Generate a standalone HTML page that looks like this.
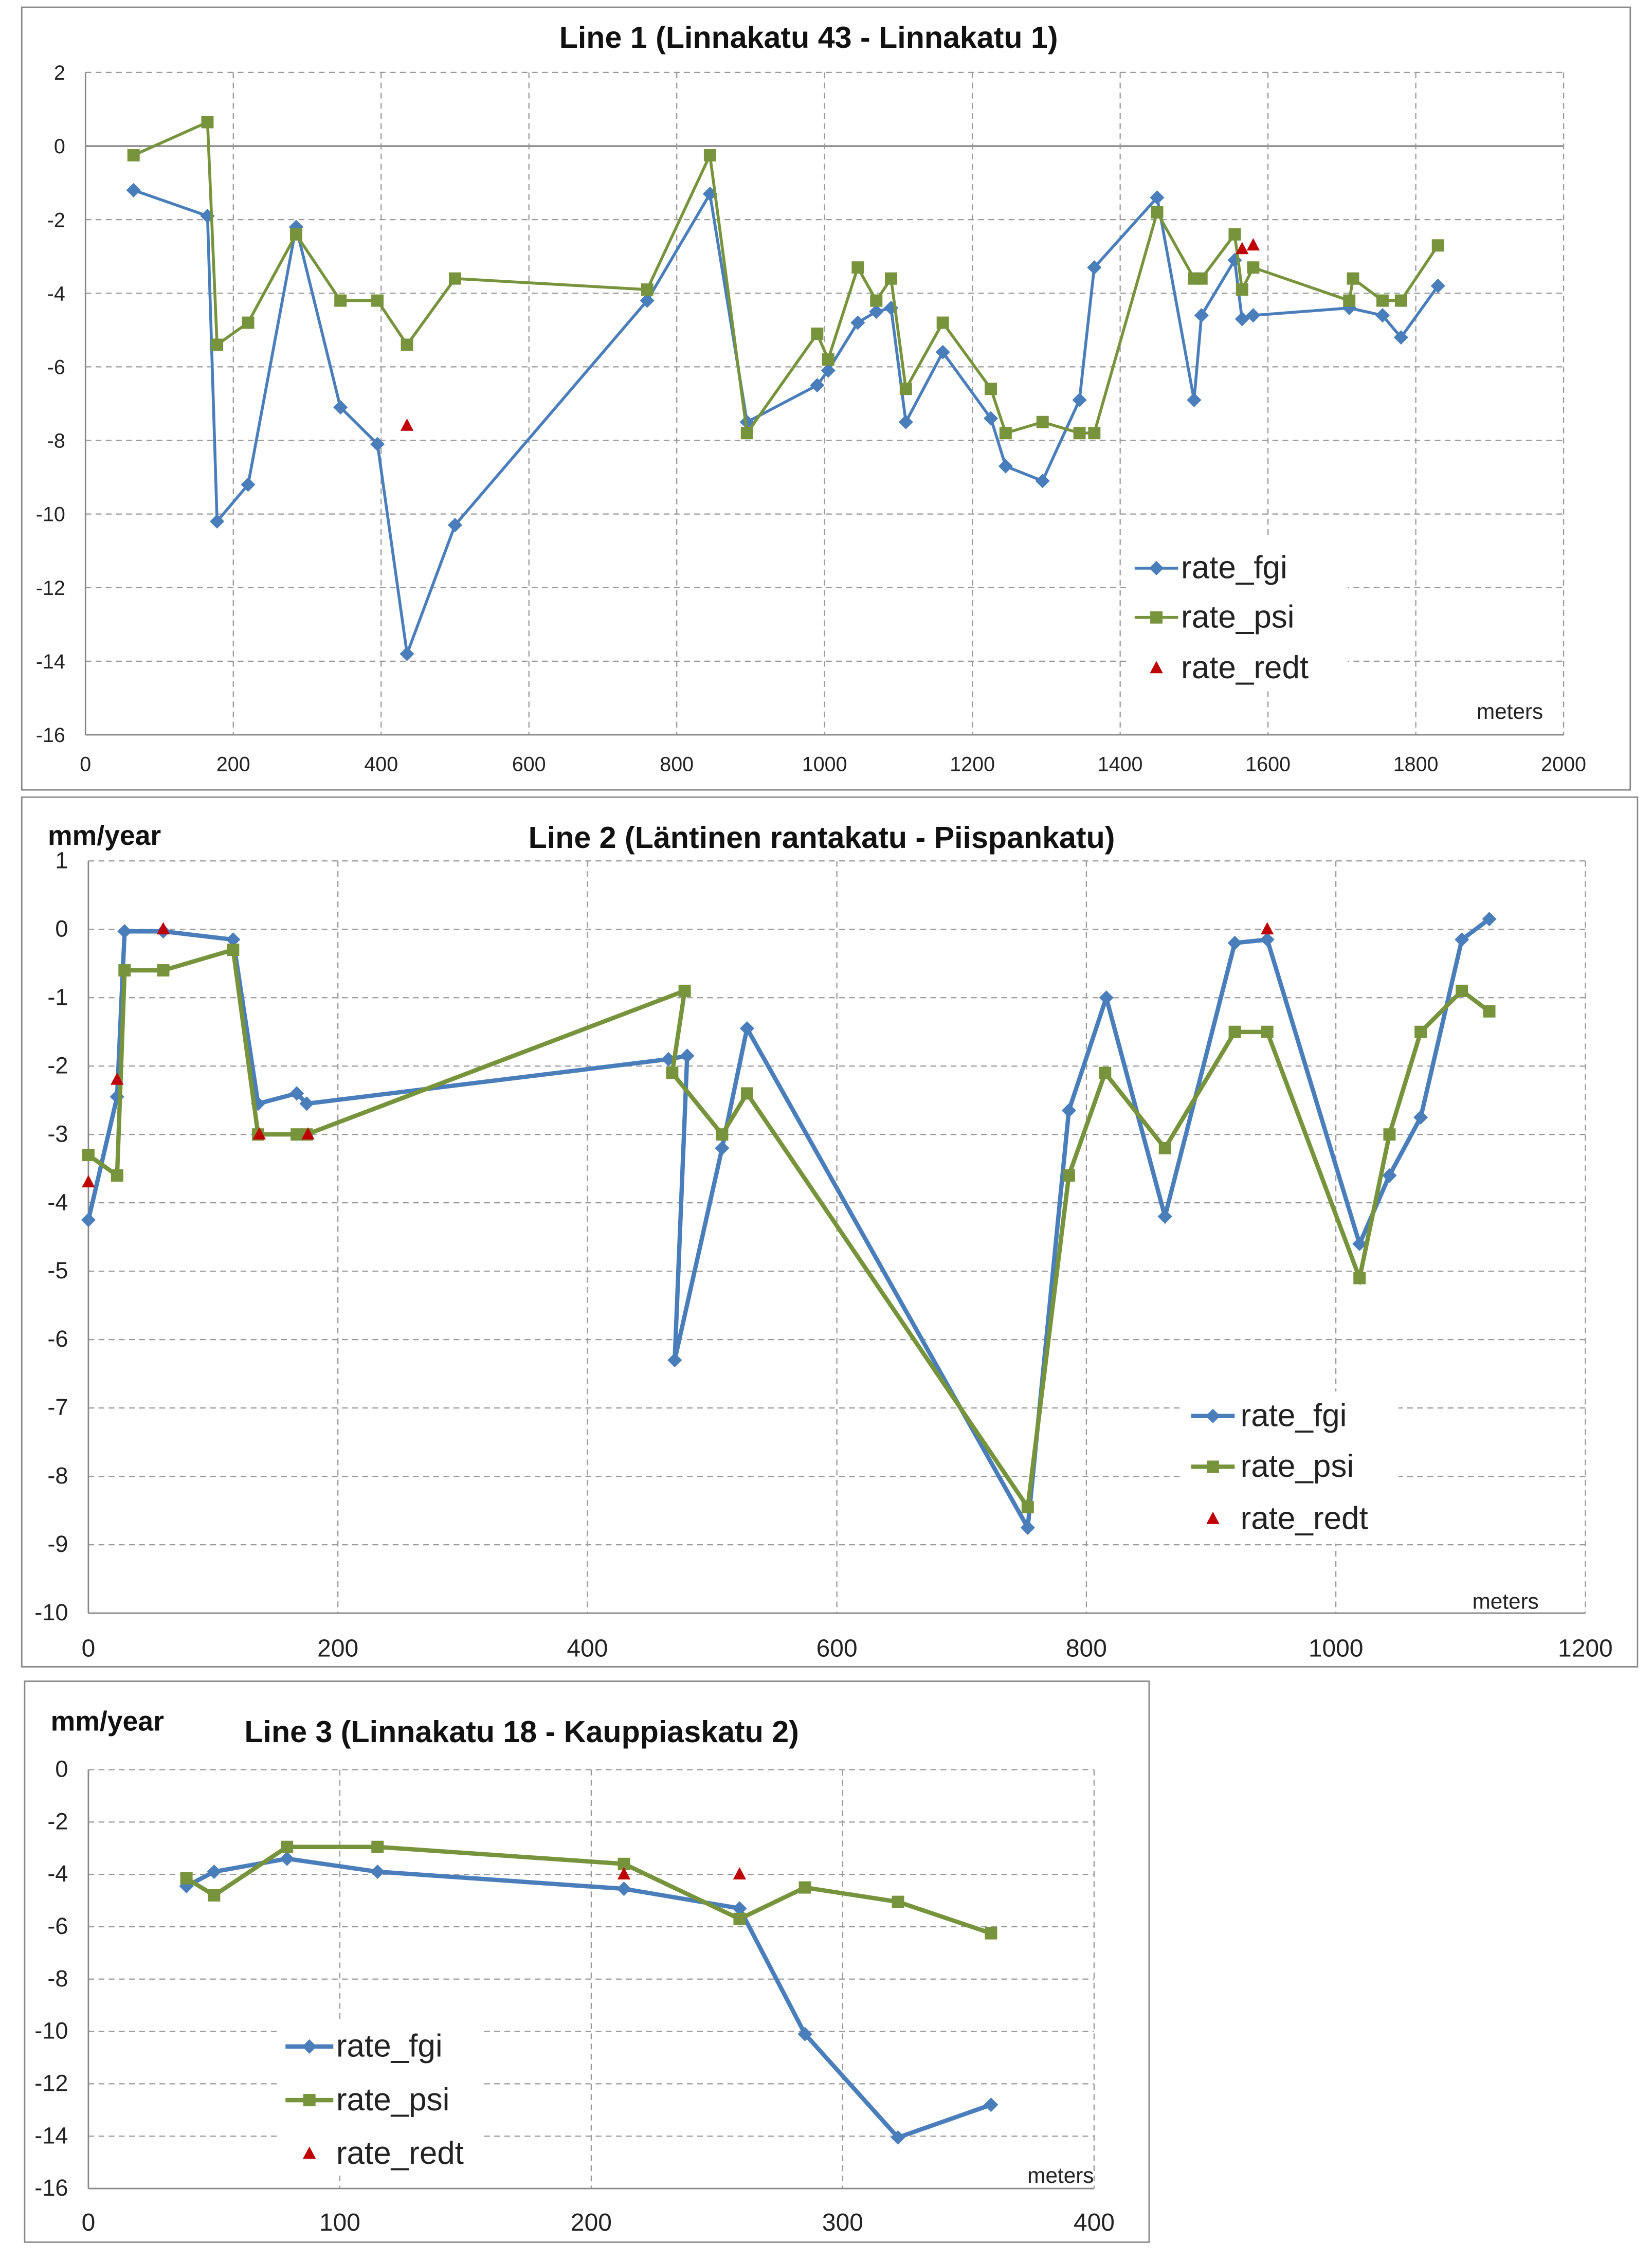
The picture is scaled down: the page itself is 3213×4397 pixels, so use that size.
<!DOCTYPE html>
<html><head><meta charset="utf-8"><style>
html,body{margin:0;padding:0;background:#fff;}
svg{display:block;font-family:"Liberation Sans Narrow","Liberation Sans",sans-serif;}
</style></head><body>
<svg id="root" width="3213" height="4397" viewBox="0 0 1140 1560" preserveAspectRatio="none" xmlns="http://www.w3.org/2000/svg"></svg>
<script>
// ---- Chart 1 data ----
const c1FgiX=[65,165,178,220,285,345,395,435,500,760,845,895,990,1005,1045,1070,1090,1110,1160,1225,1245,1295,1345,1365,1450,1500,1510,1555,1565,1580,1710,1755,1780,1830];
const c1FgiY=[-1.2,-1.9,-10.2,-9.2,-2.2,-7.1,-8.1,-13.8,-10.3,-4.2,-1.3,-7.5,-6.5,-6.1,-4.8,-4.5,-4.4,-7.5,-5.6,-7.4,-8.7,-9.1,-6.9,-3.3,-1.4,-6.9,-4.6,-3.1,-4.7,-4.6,-4.4,-4.6,-5.2,-3.8];
const c1PsiX=[65,165,178,220,285,345,395,435,500,760,845,895,990,1005,1045,1070,1090,1110,1160,1225,1245,1295,1345,1365,1450,1500,1510,1555,1565,1580,1710,1715,1755,1780,1830];
const c1PsiY=[-0.25,0.65,-5.4,-4.8,-2.4,-4.2,-4.2,-5.4,-3.6,-3.9,-0.25,-7.8,-5.1,-5.8,-3.3,-4.2,-3.6,-6.6,-4.8,-6.6,-7.8,-7.5,-7.8,-7.8,-1.8,-3.6,-3.6,-2.4,-3.9,-3.3,-4.2,-3.6,-4.2,-4.2,-2.7];
const c1RedX=[435,1565,1580];
const c1RedY=[-7.6,-2.8,-2.7];
const c1XTicks=[0,200,400,600,800,1000,1200,1400,1600,1800,2000];
const c1YTicks=[2,0,-2,-4,-6,-8,-10,-12,-14,-16];
// ---- Chart 2 data ----
const c2FgiX=[0,23,29,60,116,136,167,175,465,480,470,508,528,753,786,816,863,919,945,1019,1043,1068,1101,1123];
const c2FgiY=[-4.25,-2.45,-0.03,-0.03,-0.15,-2.55,-2.4,-2.55,-1.9,-1.85,-6.3,-3.2,-1.45,-8.75,-2.65,-1.0,-4.2,-0.2,-0.15,-4.6,-3.6,-2.75,-0.15,0.15];
const c2PsiX=[0,23,29,60,116,136,167,175,478,468,508,528,753,786,815,863,919,945,1019,1043,1068,1101,1123];
const c2PsiY=[-3.3,-3.6,-0.6,-0.6,-0.3,-3.0,-3.0,-3.0,-0.9,-2.1,-3.0,-2.4,-8.45,-3.6,-2.1,-3.2,-1.5,-1.5,-5.1,-3.0,-1.5,-0.9,-1.2];
const c2RedX=[0,23,60,137,176,945];
const c2RedY=[-3.7,-2.2,0,-3.0,-3.0,0];
const c2XTicks=[0,200,400,600,800,1000,1200];
const c2YTicks=[1,0,-1,-2,-3,-4,-5,-6,-7,-8,-9,-10];
// ---- Chart 3 data ----
const c3FgiX=[39,50,79,115,213,259,285,322,359];
const c3FgiY=[-4.45,-3.9,-3.4,-3.9,-4.55,-5.3,-10.1,-14.05,-12.8];
const c3PsiX=[39,50,79,115,213,259,285,322,359];
const c3PsiY=[-4.15,-4.8,-2.95,-2.95,-3.6,-5.7,-4.5,-5.05,-6.25];
const c3RedX=[213,259];
const c3RedY=[-4.0,-4.0];
const c3XTicks=[0,100,200,300,400];
const c3YTicks=[0,-2,-4,-6,-8,-10,-12,-14,-16];

const NS="http://www.w3.org/2000/svg";
const root=document.getElementById('root');
function mk(tag,attrs,parent){const e=document.createElementNS(NS,tag);for(const k in attrs)e.setAttribute(k,attrs[k]);(parent||root).appendChild(e);return e;}
const BLUE="#4a7ebb",GREEN="#77933c",RED="#c00000";

function chart(cfg){
  const g=mk('g',{});
  
  
  const fr=mk('rect',{x:cfg.frame[0],y:cfg.frame[1],width:cfg.frame[2],height:cfg.frame[3],fill:'#fff',stroke:'#888','stroke-width':1},g);
  
  
  const [x0,x1,y0,y1]=cfg.plot;
  const sx=v=>x0+(v-cfg.xmin)/(cfg.xmax-cfg.xmin)*(x1-x0);
  const sy=v=>y0+(cfg.ymax-v)/(cfg.ymax-cfg.ymin)*(y1-y0);
  cfg.yTicks.forEach(t=>{
    const ln=mk('line',{x1:x0,x2:x1,y1:sy(t),y2:sy(t),stroke:t===0&&cfg.zeroSolid?'#888':'#999','stroke-width':t===0&&cfg.zeroSolid?1.2:0.8,'stroke-dasharray':(t===0&&cfg.zeroSolid)||t===cfg.ymin?'':'4,3'},g);
    
    
    const tx=mk('text',{x:x0-14,y:sy(t)+5,'text-anchor':'end','font-size':cfg.yfs,fill:'#222'},g);
    tx.textContent=t;
    
    
  });
  cfg.xTicks.forEach(t=>{
    if(cfg.vgrid){
      const ln=mk('line',{x1:sx(t),x2:sx(t),y1:y0,y2:y1,stroke:'#999','stroke-width':0.8,'stroke-dasharray':t===cfg.xmin?'':'4,3'},g);
      
      
    }
    const tx=mk('text',{x:sx(t),y:y1+cfg.xlabOff,'text-anchor':'middle','font-size':cfg.xfs,fill:'#222'},g);
    tx.textContent=t;
    
    
  });
  const ax=mk('line',{x1:x0,x2:x0,y1:y0,y2:y1,stroke:'#888','stroke-width':1},g);
  
  
  const bx=mk('line',{x1:x0,x2:x1,y1:y1,y2:y1,stroke:'#888','stroke-width':1},g);
  
  
  const tt=mk('text',{x:cfg.title[1],y:cfg.title[2],'text-anchor':'middle','font-size':21,'font-weight':'bold',fill:'#111'},g);
  tt.textContent=cfg.title[0];
  
  
  if(cfg.unit){
    const u=mk('text',{x:cfg.unit[0],y:cfg.unit[1],'font-size':19,'font-weight':'bold',fill:'#111'},g);
    u.textContent='mm/year';
    
    
  }
  const m=mk('text',{x:cfg.meters[0],y:cfg.meters[1],'font-size':15,fill:'#222'},g);
  m.textContent='meters';
  
  
  function series(xs,ys,color,marker,name){
    const pts=xs.map((x,i)=>sx(x).toFixed(1)+','+sy(ys[i]).toFixed(1)).join(' ');
    const pl=mk('polyline',{points:pts,fill:'none',stroke:color,'stroke-width':cfg.lw},g);
    
    
    xs.forEach((x,i)=>{drawMarker(g,sx(x),sy(ys[i]),marker,color,cfg.ms,name+'-point');});
  }
  series(cfg.fgi[0],cfg.fgi[1],BLUE,'d','rate-fgi');
  series(cfg.psi[0],cfg.psi[1],GREEN,'s','rate-psi');
  cfg.red[0].forEach((x,i)=>drawMarker(g,sx(x),sy(cfg.red[1][i]),'t',RED,cfg.ms,'rate-redt-point'));
  const L=cfg.legend;
  const lb=mk('rect',{x:L.box[0],y:L.box[1],width:L.box[2],height:L.box[3],fill:'#fff'},g);
  
  
  [['rate_fgi',BLUE,'d'],['rate_psi',GREEN,'s'],['rate_redt',RED,'t']].forEach((e,i)=>{
    const y=L.ys[i];
    if(e[2]!=='t'){
      const ln=mk('line',{x1:L.lx,x2:L.lx+L.lw,y1:y,y2:y,stroke:e[1],'stroke-width':cfg.lw},g);
      
      
    }
    drawMarker(g,L.lx+L.lw/2,y,e[2],e[1],cfg.ms,'legend-marker');
    const tx=mk('text',{x:L.tx,y:y+7,'font-size':22,fill:'#222'},g);
    tx.textContent=e[0];
    
    
  });
}
function drawMarker(g,x,y,type,color,s,name){
  let e;
  if(type==='d') e=mk('polygon',{points:`${x},${y-s} ${x+s},${y} ${x},${y+s} ${x-s},${y}`,fill:color},g);
  else if(type==='s') e=mk('rect',{x:x-s*0.85,y:y-s*0.85,width:s*1.7,height:s*1.7,fill:color},g);
  else e=mk('polygon',{points:`${x},${y-s} ${x+s*0.9},${y+s*0.7} ${x-s*0.9},${y+s*0.7}`,fill:color},g);
  
  
}

chart({name:'chart-line-1',frame:[15,5,1110,540],plot:[59,1079,50,507],xmin:0,xmax:2000,ymin:-16,ymax:2,
  xTicks:c1XTicks,yTicks:c1YTicks,vgrid:true,zeroSolid:true,xlabOff:25,xfs:14,yfs:14,lw:2,ms:5,
  title:['Line 1 (Linnakatu  43 - Linnakatu  1)',558,33],meters:[1019,496],
  fgi:[c1FgiX,c1FgiY],psi:[c1PsiX,c1PsiY],red:[c1RedX,c1RedY],
  legend:{box:[778,372,152,104],ys:[392,426,461],lx:783,lw:30,tx:815}});
chart({name:'chart-line-2',frame:[15,550,1115,600],plot:[61,1094,594,1113],xmin:0,xmax:1200,ymin:-10,ymax:1,
  xTicks:c2XTicks,yTicks:c2YTicks,vgrid:true,zeroSolid:false,xlabOff:30,xfs:17,yfs:16,lw:3,ms:5,
  title:['Line 2 (Läntinen rantakatu  -  Piispankatu)',567,585],unit:[33,583],meters:[1016,1110],
  fgi:[c2FgiX,c2FgiY],psi:[c2PsiX,c2PsiY],red:[c2RedX,c2RedY],
  legend:{box:[815,960,150,105],ys:[977,1012,1048],lx:822,lw:30,tx:856}});
chart({name:'chart-line-3',frame:[17,1160,776,387],plot:[61,755,1221,1510],xmin:0,xmax:400,ymin:-16,ymax:0,
  xTicks:c3XTicks,yTicks:c3YTicks,vgrid:true,zeroSolid:false,xlabOff:29,xfs:17,yfs:16,lw:3,ms:5,
  title:['Line 3 (Linnakatu  18 -  Kauppiaskatu  2)',360,1202],unit:[35,1194],meters:[709,1506],
  fgi:[c3FgiX,c3FgiY],psi:[c3PsiX,c3PsiY],red:[c3RedX,c3RedY],
  legend:{box:[192,1395,140,106],ys:[1412,1449,1486],lx:197,lw:33,tx:232}});
</script>
</body></html>
